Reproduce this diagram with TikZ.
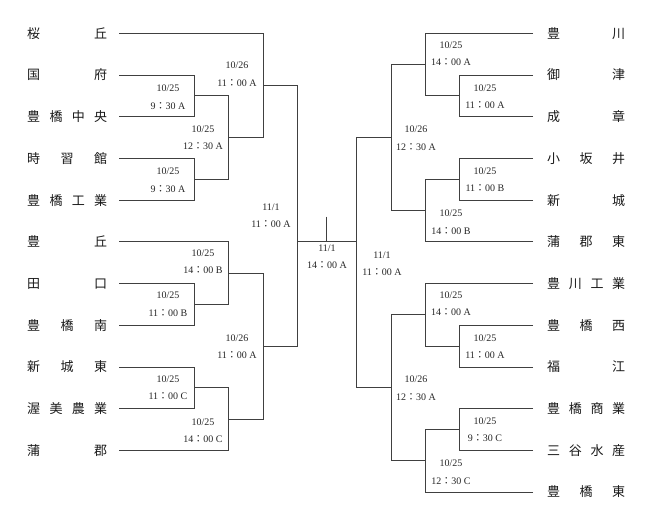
\documentclass[tikz,border=0pt]{standalone}
\usepackage{fontspec}
\setmainfont{Liberation Serif}
\newfontfamily\cjk{Noto Sans CJK JP}
\newcommand{\cl}{{\cjk ：}}
\tikzset{
  br/.style={draw=black!75, line width=0.75pt},
  lbl/.style={font=\fontsize{10}{17.5}\selectfont, align=center, inner sep=0pt, text=black!85},
  team/.style={font=\cjk\fontsize{13}{13}\selectfont, inner sep=0pt, anchor=west, text=black!90}
}
\begin{document}
\begin{tikzpicture}[x=1pt,y=-1pt]
\useasboundingbox (0,0) rectangle (654,526);
% left teams
\foreach \k/\t in {0/{桜\hfill 丘},1/{国\hfill 府},2/{豊\hfill 橋\hfill 中\hfill 央},3/{時\hfill 習\hfill 館},4/{豊\hfill 橋\hfill 工\hfill 業},5/{豊\hfill 丘},6/{田\hfill 口},7/{豊\hfill 橋\hfill 南},8/{新\hfill 城\hfill 東},9/{渥\hfill 美\hfill 農\hfill 業},10/{蒲\hfill 郡}}
  \node[team] (L\k) at (27,{33.3+41.7*\k}) {\makebox[80pt]{\t}};
% right teams
\foreach \k/\t in {0/{豊\hfill 川},1/{御\hfill 津},2/{成\hfill 章},3/{小\hfill 坂\hfill 井},4/{新\hfill 城},5/{蒲\hfill 郡\hfill 東},6/{豊\hfill 川\hfill 工\hfill 業},7/{豊\hfill 橋\hfill 西},8/{福\hfill 江},9/{豊\hfill 橋\hfill 商\hfill 業},10/{三\hfill 谷\hfill 水\hfill 産},11/{豊\hfill 橋\hfill 東}}
  \node[team] (R\k) at (547,{33.3+41.7*\k}) {\makebox[78pt]{\t}};
% junctions left
\coordinate (LA) at (194,95.85);
\coordinate (LB) at (194,179.25);
\coordinate (LC) at (228,137.55);
\coordinate (LD) at (263,85.4);
\coordinate (LE) at (194,304.35);
\coordinate (LF) at (228,273.1);
\coordinate (LG) at (194,387.75);
\coordinate (LH) at (228,419.0);
\coordinate (LI) at (263,346.05);
\coordinate (LJ) at (297,241.8);
% junctions right
\coordinate (RA) at (459,95.85);
\coordinate (RB) at (425,64.6);
\coordinate (RC) at (459,179.25);
\coordinate (RD) at (425,210.5);
\coordinate (RE) at (391,137.55);
\coordinate (RF) at (459,346.05);
\coordinate (RG) at (425,314.8);
\coordinate (RH) at (459,429.45);
\coordinate (RI) at (425,460.7);
\coordinate (RJ) at (391,387.75);
\coordinate (RK) at (356,241.8);
\coordinate (CT) at (326,216.7);
\coordinate (CB) at (326,241.8);
% left bracket
\draw[br] ([xshift=12pt]L1.east) -| (LA);
\draw[br] ([xshift=12pt]L2.east) -| (LA);
\draw[br] ([xshift=12pt]L3.east) -| (LB);
\draw[br] ([xshift=12pt]L4.east) -| (LB);
\draw[br] (LA) -| (LC);
\draw[br] (LB) -| (LC);
\draw[br] ([xshift=12pt]L0.east) -| (LD);
\draw[br] (LC) -| (LD);
\draw[br] ([xshift=12pt]L6.east) -| (LE);
\draw[br] ([xshift=12pt]L7.east) -| (LE);
\draw[br] ([xshift=12pt]L5.east) -| (LF);
\draw[br] (LE) -| (LF);
\draw[br] ([xshift=12pt]L8.east) -| (LG);
\draw[br] ([xshift=12pt]L9.east) -| (LG);
\draw[br] (LG) -| (LH);
\draw[br] ([xshift=12pt]L10.east) -| (LH);
\draw[br] (LF) -| (LI);
\draw[br] (LH) -| (LI);
\draw[br] (LD) -| (LJ);
\draw[br] (LI) -| (LJ);
% right bracket
\draw[br] ([xshift=-14pt]R1.west) -| (RA);
\draw[br] ([xshift=-14pt]R2.west) -| (RA);
\draw[br] ([xshift=-14pt]R0.west) -| (RB);
\draw[br] (RA) -| (RB);
\draw[br] ([xshift=-14pt]R3.west) -| (RC);
\draw[br] ([xshift=-14pt]R4.west) -| (RC);
\draw[br] (RC) -| (RD);
\draw[br] ([xshift=-14pt]R5.west) -| (RD);
\draw[br] (RB) -| (RE);
\draw[br] (RD) -| (RE);
\draw[br] ([xshift=-14pt]R7.west) -| (RF);
\draw[br] ([xshift=-14pt]R8.west) -| (RF);
\draw[br] ([xshift=-14pt]R6.west) -| (RG);
\draw[br] (RF) -| (RG);
\draw[br] ([xshift=-14pt]R9.west) -| (RH);
\draw[br] ([xshift=-14pt]R10.west) -| (RH);
\draw[br] (RH) -| (RI);
\draw[br] ([xshift=-14pt]R11.west) -| (RI);
\draw[br] (RG) -| (RJ);
\draw[br] (RI) -| (RJ);
\draw[br] (RE) -| (RK);
\draw[br] (RJ) -| (RK);
% final
\draw[br] (LJ) -- (RK);
\draw[br] (CT) -- (CB);
% labels left
\node[lbl] (tLD) at (237,74.2) {10/26\\11\cl 00 A};
\node[lbl] (tLA) at (168,97) {10/25\\9\cl 30 A};
\node[lbl] (tLC) at (203,137.5) {10/25\\12\cl 30 A};
\node[lbl] (tLB) at (168,180) {10/25\\9\cl 30 A};
\node[lbl] (tLJ) at (271,216) {11/1\\11\cl 00 A};
\node[lbl] (tC) at (327,257) {11/1\\14\cl 00 A};
\node[lbl] (tLF) at (203,261.7) {10/25\\14\cl 00 B};
\node[lbl] (tLE) at (168,304.3) {10/25\\11\cl 00 B};
\node[lbl] (tLI) at (237,346.7) {10/26\\11\cl 00 A};
\node[lbl] (tLG) at (168,387.5) {10/25\\11\cl 00 C};
\node[lbl] (tLH) at (203,430.8) {10/25\\14\cl 00 C};
% labels right
\node[lbl] (tRB) at (451,53.5) {10/25\\14\cl 00 A};
\node[lbl] (tRA) at (485,96.9) {10/25\\11\cl 00 A};
\node[lbl] (tRE) at (416,138.3) {10/26\\12\cl 30 A};
\node[lbl] (tRC) at (485,179.5) {10/25\\11\cl 00 B};
\node[lbl] (tRD) at (451,222.2) {10/25\\14\cl 00 B};
\node[lbl] (tRK) at (382,263.7) {11/1\\11\cl 00 A};
\node[lbl] (tRG) at (451,303.5) {10/25\\14\cl 00 A};
\node[lbl] (tRF) at (485,346.9) {10/25\\11\cl 00 A};
\node[lbl] (tRJ) at (416,388.3) {10/26\\12\cl 30 A};
\node[lbl] (tRH) at (485,429.9) {10/25\\9\cl 30 C};
\node[lbl] (tRI) at (451,472.2) {10/25\\12\cl 30 C};
\end{tikzpicture}
\end{document}
